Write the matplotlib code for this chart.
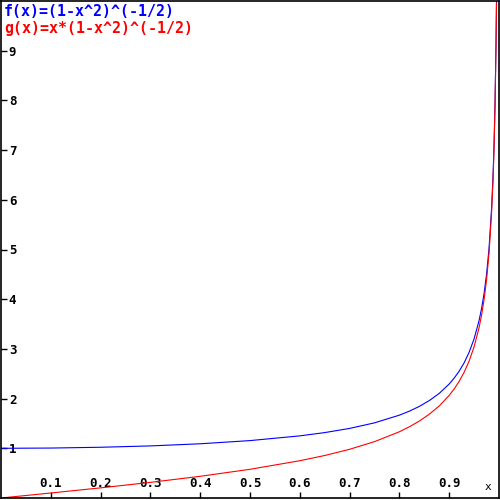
import matplotlib
matplotlib.use("Agg")
import matplotlib.pyplot as plt

# points
x_vals = [0.0, 0.1, 0.2, 0.3, 0.4, 0.5, 0.6, 0.65, 0.7, 0.75, 0.8, 0.82, 0.84, 0.86,
          0.88, 0.9, 0.91, 0.92, 0.93, 0.94, 0.95, 0.96, 0.965, 0.97, 0.975, 0.98,
          0.985, 0.988, 0.99, 0.992, 0.994, 0.995]
f_vals = [1.0, 1.005, 1.021, 1.048, 1.091, 1.155, 1.25, 1.316, 1.400, 1.512, 1.667,
          1.747, 1.843, 1.960, 2.105, 2.294, 2.412, 2.552, 2.720, 2.931, 3.203,
          3.571, 3.812, 4.113, 4.500, 5.025, 5.812, 6.468, 7.089, 7.931, 9.142, 10.01]
g_vals = [0.0, 0.1005, 0.204, 0.3145, 0.4364, 0.5774, 0.75, 0.855, 0.980, 1.134,
          1.333, 1.433, 1.548, 1.686, 1.852, 2.065, 2.195, 2.348, 2.530, 2.755,
          3.043, 3.428, 3.679, 3.990, 4.388, 4.925, 5.725, 6.390, 7.018, 7.868,
          9.087, 9.96]

x_ticks = [0.1, 0.2, 0.3, 0.4, 0.5, 0.6, 0.7, 0.8, 0.9]
y_ticks = [1, 2, 3, 4, 5, 6, 7, 8, 9]

f_label = "f(x)=(1-x^2)^(-1/2)"
g_label = "g(x)=x*(1-x^2)^(-1/2)"

mono = "DejaVu Sans Mono"

fig = plt.figure(figsize=(5, 5), dpi=100)
ax = fig.add_axes([1 / 500, 2 / 500, 498 / 500, 497 / 500])
ax.set_xlim(0, 1)
ax.set_ylim(0, 10)

ax.plot(x_vals, f_vals, color="#0000ff", lw=0.8)
ax.plot(x_vals, g_vals, color="#ff0000", lw=0.8)

for s in ax.spines.values():
    s.set_color("black")
    s.set_linewidth(1.2)

ax.set_xticks(x_ticks)
ax.set_xticklabels([f"{t:.1f}" for t in x_ticks])
ax.set_yticks(y_ticks)
ax.set_yticklabels([str(t) for t in y_ticks])
ax.tick_params(axis="x", direction="in", length=4, width=1, pad=-15)
ax.tick_params(axis="y", direction="in", length=4, width=1, pad=-11)
for lab in ax.get_xticklabels() + ax.get_yticklabels():
    lab.set_fontfamily(mono)
    lab.set_fontweight("bold")
    lab.set_fontsize(9)

ax.text(4 / 500, 1 - 12 / 500, f_label, transform=fig.transFigure, color="#0000ff",
        fontfamily=mono, fontweight="bold", fontsize=10.8, va="center", ha="left")
ax.text(4 / 500, 1 - 28 / 500, g_label, transform=fig.transFigure, color="#ff0000",
        fontfamily=mono, fontweight="bold", fontsize=10.8, va="center", ha="left")
ax.text(488 / 500, 1 - 487 / 500, "x", transform=fig.transFigure, color="black",
        fontfamily=mono, fontsize=8, va="center", ha="center")

fig.savefig("out.png", dpi=100)
